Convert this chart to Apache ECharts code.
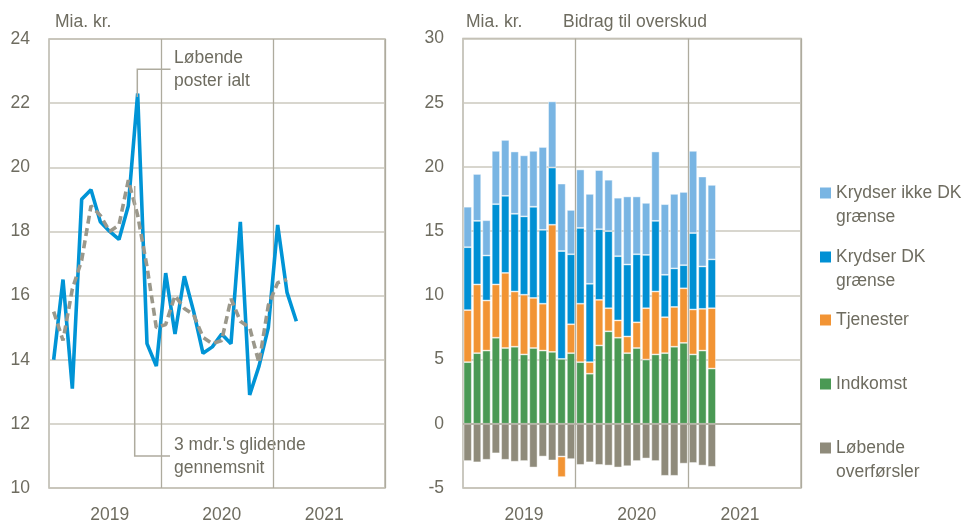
<!DOCTYPE html>
<html><head><meta charset="utf-8">
<script src="https://cdn.jsdelivr.net/npm/echarts@6/dist/echarts.min.js"></script>
<style>html,body{margin:0;padding:0;background:#fff}#c{width:963px;height:524px}</style>
</head><body><div id="c"></div>
<script>
// ---- data ----
const months = ['2019-01','2019-02','2019-03','2019-04','2019-05','2019-06','2019-07','2019-08','2019-09','2019-10','2019-11','2019-12',
  '2020-01','2020-02','2020-03','2020-04','2020-05','2020-06','2020-07','2020-08','2020-09','2020-10','2020-11','2020-12',
  '2021-01','2021-02','2021-03','2021-04','2021-05','2021-06','2021-07','2021-08','2021-09','2021-10','2021-11','2021-12'];
const yearLabelMonths = ['2019-07','2020-07','2021-06'];

const loebendePoster = [14.0,16.5,13.1,19.0,19.3,18.3,18.0,17.75,18.8,22.3,14.5,13.8,16.7,14.8,16.6,15.5,14.2,14.4,14.8,14.5,18.3,12.9,13.8,15.0,18.2,16.1,15.2];
const glidende3m = [15.5,14.6,16.2,17.1,18.8,18.5,18.0,18.2,19.6,18.5,16.9,15.0,15.1,16.0,15.6,15.4,14.7,14.5,14.6,15.9,15.2,15.0,13.9,15.7,16.4,16.5];

const indkomst = [4.8,5.5,5.7,6.7,5.9,6.0,5.4,5.9,5.7,5.6,5.05,5.5,4.8,3.9,6.1,7.2,6.7,5.5,5.9,5.0,5.4,5.5,6.0,6.3,5.4,5.7,4.3];
const tjenester = [4.05,5.35,3.9,4.15,5.85,4.3,4.65,3.9,3.65,9.9,-1.6,2.25,4.55,0.9,3.55,1.8,1.35,1.3,2.0,4.0,4.9,2.8,3.1,4.25,3.5,3.25,4.7];
const krydserDK = [4.9,4.95,3.5,6.25,6.0,6.05,6.1,7.1,5.75,4.45,8.4,5.45,5.9,6.1,5.5,6.0,5.0,5.6,5.3,4.15,5.5,3.3,3.0,1.8,5.95,3.3,3.8];
const krydserIkkeDK = [3.15,3.65,2.75,4.15,4.35,4.85,4.75,4.35,6.45,5.15,5.25,3.45,4.55,7.0,4.6,4.0,4.55,5.3,4.5,4.05,5.4,5.5,5.8,5.7,6.4,7.0,5.8];
const overfoersler = [-2.9,-3.0,-2.8,-2.3,-2.8,-2.95,-2.9,-3.4,-2.55,-2.85,-2.55,-2.75,-3.2,-3.0,-3.2,-3.25,-3.4,-3.3,-2.9,-2.7,-2.9,-4.05,-4.05,-3.1,-3.05,-3.25,-3.35];

const leftTicks = {min:10, max:24, interval:2};
const rightTicks = {min:-5, max:30, interval:5};

// ---- styles ----
const FONT = "'Liberation Sans',Arial,sans-serif";
const FS = 17.5;
const TXT = '#6e6c60';
const GRID = '#cbc9be';
const AXIS = '#aeab9e';
const C = {lb:'#79b5e3', b:'#0090d4', o:'#f29434', g:'#4a9954', gr:'#8f8b7b', line:'#0094d6', dash:'#9b988b'};

const barNames = {lb:'Krydser ikke DK grænse', b:'Krydser DK grænse', o:'Tjenester', g:'Indkomst', gr:'Løbende overførsler'};
const legendItems = [
  {key:'lb', text:'Krydser ikke DK\ngrænse', y:193},
  {key:'b', text:'Krydser DK\ngrænse', y:257},
  {key:'o', text:'Tjenester', y:320},
  {key:'g', text:'Indkomst', y:384},
  {key:'gr', text:'Løbende\noverførsler', y:448}
];

const chart = echarts.init(document.getElementById('c'), null, {renderer:'canvas'});

function xAxisFor(gridIndex){
  return {
    type:'category', gridIndex, data: months, boundaryGap:true,
    axisLine:{show:false}, axisTick:{show:false},
    axisLabel:{
      interval:(i, v)=> yearLabelMonths.indexOf(v) >= 0,
      formatter:(v)=> v.slice(0,4),
      color:TXT, fontFamily:FONT, fontSize:FS, margin:18
    },
    splitLine:{show:true, interval:(i)=> i===12 || i===24, lineStyle:{color:AXIS, width:1.3}}
  };
}
function yAxisFor(gridIndex, t){
  return {
    type:'value', gridIndex, min:t.min, max:t.max, interval:t.interval,
    axisLine:{show:false}, axisTick:{show:false},
    axisLabel:{color:TXT, fontFamily:FONT, fontSize:FS, margin:19},
    splitLine:{show:true, lineStyle:{color:GRID, width:1.5}}
  };
}

const barStyle = (c)=>({color:c, borderColor:'rgba(255,255,255,0.55)', borderWidth:0.8});
function barSeries(key, data){
  return {name:barNames[key], type:'bar', xAxisIndex:1, yAxisIndex:1, stack:'bidrag', stackStrategy:'samesign',
    barCategoryGap:'13%', data, itemStyle:barStyle(C[key]), emphasis:{disabled:true}, animation:false};
}

const tf = FS + 'px ' + FONT;
const graphics = [
  {type:'text', left:55, top:13, style:{text:'Mia. kr.', fill:TXT, font:tf}},
  {type:'text', left:466, top:13, style:{text:'Mia. kr.', fill:TXT, font:tf}},
  {type:'text', left:563, top:13, style:{text:'Bidrag til overskud', fill:TXT, font:tf}},
  {type:'polyline', shape:{points:[[137.3,97],[137.3,69.3],[170.5,69.3]]}, style:{stroke:AXIS, lineWidth:1.5, fill:null}, z:5},
  {type:'text', x:174, y:46, style:{text:'Løbende\nposter ialt', fill:TXT, font:tf, lineHeight:23.5}},
  {type:'polyline', shape:{points:[[134.7,186],[134.7,456],[170,456]]}, style:{stroke:AXIS, lineWidth:1.5, fill:null}, z:5},
  {type:'text', x:174, y:433, style:{text:"3 mdr.'s glidende\ngennemsnit", fill:TXT, font:tf, lineHeight:23.5}}
];
legendItems.forEach(it=>{
  graphics.push({type:'rect', shape:{x:820, y:it.y-5.5, width:11, height:11}, style:{fill:C[it.key]}});
  graphics.push({type:'text', x:836, y:it.y-12.25, style:{text:it.text, fill:TXT, font:tf, lineHeight:24.5}});
});

chart.setOption({
  animation:false,
  backgroundColor:'#fff',
  grid:[
    {left:49, top:39, width:336, height:450, show:true, borderColor:AXIS, borderWidth:1.3, backgroundColor:'transparent'},
    {left:463, top:38.5, width:338, height:451, show:true, borderColor:AXIS, borderWidth:1.3, backgroundColor:'transparent'}
  ],
  xAxis:[xAxisFor(0), xAxisFor(1)],
  yAxis:[yAxisFor(0, leftTicks), yAxisFor(1, rightTicks)],
  series:[
    {name:'Løbende poster ialt', type:'line', xAxisIndex:0, yAxisIndex:0, data:loebendePoster, showSymbol:false, symbol:'none',
      lineStyle:{color:C.line, width:3.6}, z:3},
    {name:"3 mdr.'s glidende gennemsnit", type:'line', xAxisIndex:0, yAxisIndex:0, data:glidende3m, showSymbol:false, symbol:'none',
      lineStyle:{color:C.dash, width:3.6, type:[8,4.5]}, z:4},
    Object.assign(barSeries('gr', overfoersler), {markLine:{silent:true, symbol:['none','none'], label:{show:false},
      lineStyle:{color:AXIS, width:1.5, type:'solid'}, data:[{yAxis:0}], animation:false}}),
    barSeries('g', indkomst),
    barSeries('o', tjenester),
    barSeries('b', krydserDK),
    barSeries('lb', krydserIkkeDK)
  ],
  graphic: graphics
});
</script></body></html>
